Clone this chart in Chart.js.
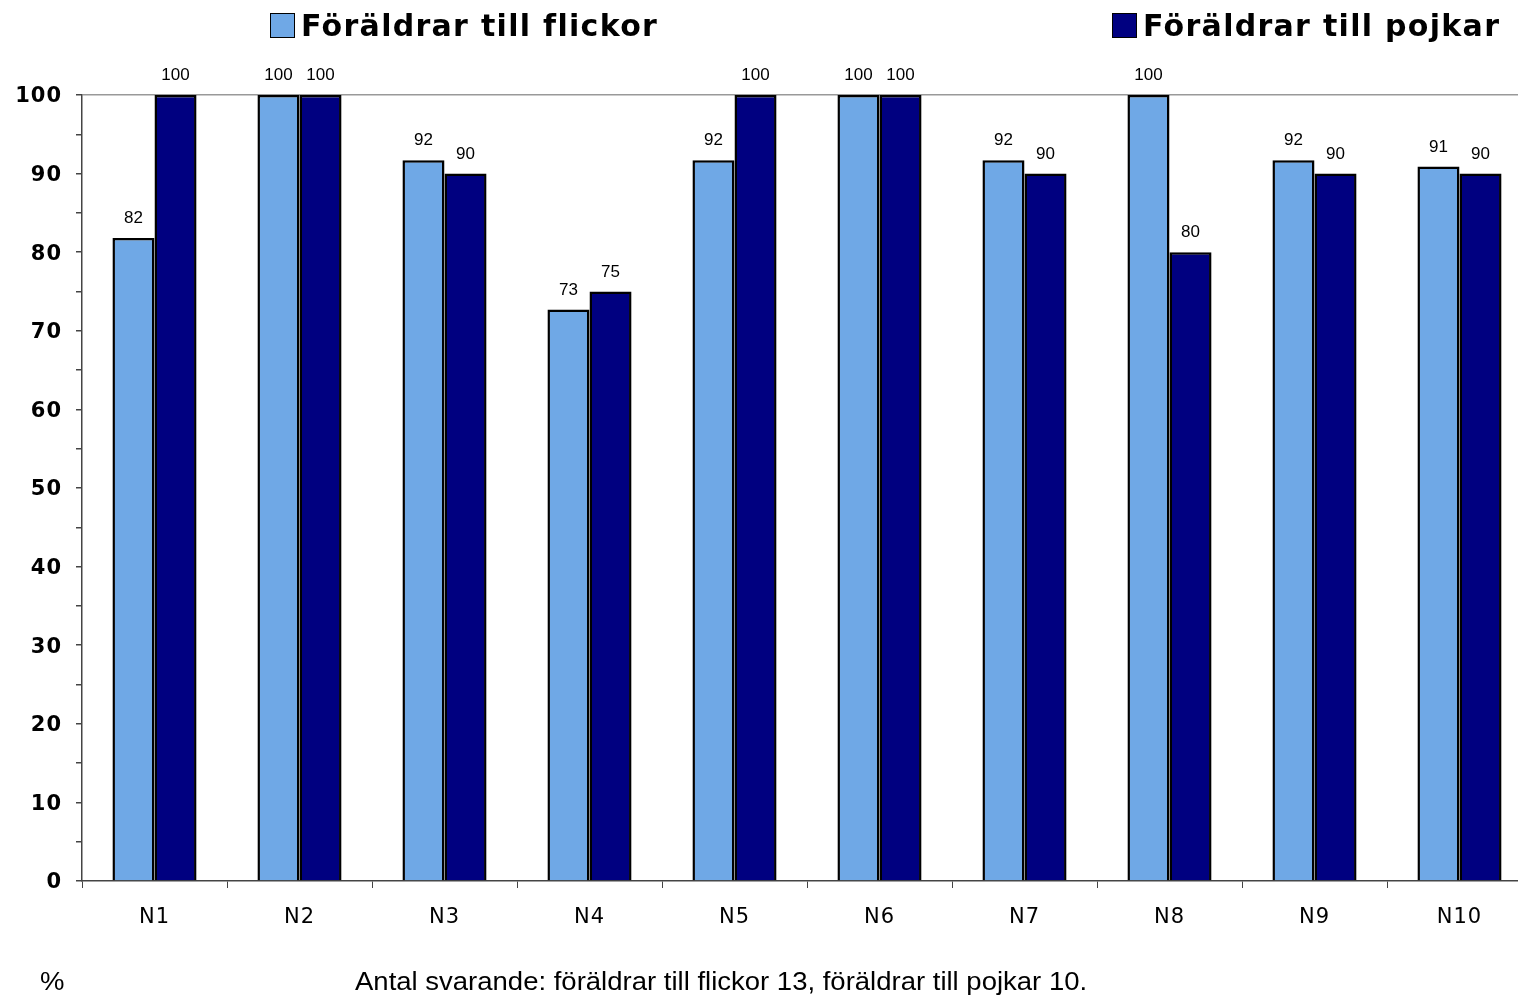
<!DOCTYPE html>
<html><head><meta charset="utf-8">
<script src="https://cdn.jsdelivr.net/npm/chart.js@4"></script>
<style>
html,body{margin:0;padding:0;background:#fff;overflow:hidden;width:1518px;height:995px;}
#wrap{position:absolute;left:0;top:0;width:1545px;height:995px;}
.leg{position:absolute;top:8px;font-family:"DejaVu Sans",Verdana,sans-serif;font-weight:bold;font-size:30px;letter-spacing:1.3px;color:#000;white-space:nowrap;line-height:36px;}
.leg span.box{display:inline-block;width:23px;height:23px;border:1.5px solid #000;vertical-align:-2px;margin-right:6px;}
.foot{position:absolute;font-family:"Liberation Sans",Arial,sans-serif;font-size:25px;color:#000;white-space:nowrap;transform:scaleX(1.1);transform-origin:left center;}
</style></head>
<body>
<div id="wrap"><canvas id="c" width="1545" height="995"></canvas></div>
<div id="leg0" class="leg" style="left:270px"></div>
<div id="leg1" class="leg" style="left:1112px"></div>
<div class="foot" style="left:40px;top:967px">%</div>
<div id="note" class="foot" style="left:355px;top:967px"></div>
<script>
const categories = ['N1','N2','N3','N4','N5','N6','N7','N8','N9','N10'];
const seriesNames = ['Föräldrar till flickor','Föräldrar till pojkar'];
const flickor = [81.8,100,91.7,72.7,91.7,100,91.7,100,91.7,90.9];
const pojkar = [100,100,90,75,100,100,90,80,90,90];
const colors = ['#6FA8E6','#000080'];
const yTicks = [0,10,20,30,40,50,60,70,80,90,100];
const noteText = 'Antal svarande: föräldrar till flickor 13, föräldrar till pojkar 10.';

document.getElementById('note').textContent = noteText;
[0,1].forEach(i=>{
  const el = document.getElementById('leg'+i);
  const b = document.createElement('span'); b.className='box'; b.style.background=colors[i];
  el.appendChild(b); el.appendChild(document.createTextNode(seriesNames[i]));
});

const spacingPlugin = {
  id:'spacing',
  beforeDraw(chart){ chart.ctx.letterSpacing = '1px'; },
  beforeDatasetsDraw(chart){ chart.ctx.letterSpacing = '0px'; }
};

const labelPlugin = {
  id:'vals',
  afterDatasetsDraw(chart){
    const ctx = chart.ctx;
    ctx.save();
    ctx.letterSpacing = '0px';
    ctx.font = '17px "Liberation Sans", Arial, sans-serif';
    ctx.fillStyle = '#000';
    ctx.textAlign = 'center';
    ctx.textBaseline = 'bottom';
    chart.data.datasets.forEach((ds,di)=>{
      chart.getDatasetMeta(di).data.forEach((bar,i)=>{
        ctx.fillText(String(Math.round(ds.data[i])), bar.x, bar.y - 11);
      });
    });
    ctx.restore();
  }
};

new Chart(document.getElementById('c'),{
  type:'bar',
  data:{labels:categories,datasets:[
    {label:seriesNames[0],data:flickor,backgroundColor:colors[0],borderColor:'#000',borderWidth:2.5,borderSkipped:'bottom'},
    {label:seriesNames[1],data:pojkar,backgroundColor:colors[1],borderColor:'#000',borderWidth:2.5,borderSkipped:'bottom'}
  ]},
  options:{
    responsive:false,animation:false,
    layout:{padding:{top:95,left:0,right:13,bottom:0}},
    datasets:{bar:{categoryPercentage:0.58,barPercentage:1}},
    plugins:{legend:{display:false},tooltip:{enabled:false}},
    scales:{
      x:{
        afterFit(s){s.height=114;},
        grid:{offset:true,drawOnChartArea:false,color:'#444',tickLength:7,lineWidth:1},
        border:{color:'#444',width:1.5},
        ticks:{padding:17,color:'#000',font:{family:'"DejaVu Sans", Verdana, sans-serif',size:21}}
      },
      y:{
        min:0,max:100,
        afterFit(s){s.width=82;},
        afterBuildTicks(s){ const t=[]; for(let v=0; v<=100; v+=5) t.push({value:v}); s.ticks=t; },
        grid:{color:(c)=> c.tick && c.tick.value===100 ? '#999' : 'rgba(0,0,0,0)', lineWidth:1.5, tickColor:'#444', tickLength:6},
        border:{color:'#444',width:1.5},
        ticks:{padding:14,color:'#000',autoSkip:false,labelOffset:2,
          callback:(v)=> yTicks.includes(v) ? String(v) : '',
          font:{family:'"DejaVu Sans", Verdana, sans-serif',size:21,weight:'bold'}}
      }
    }
  },
  plugins:[spacingPlugin,labelPlugin]
});
</script>
</body></html>
